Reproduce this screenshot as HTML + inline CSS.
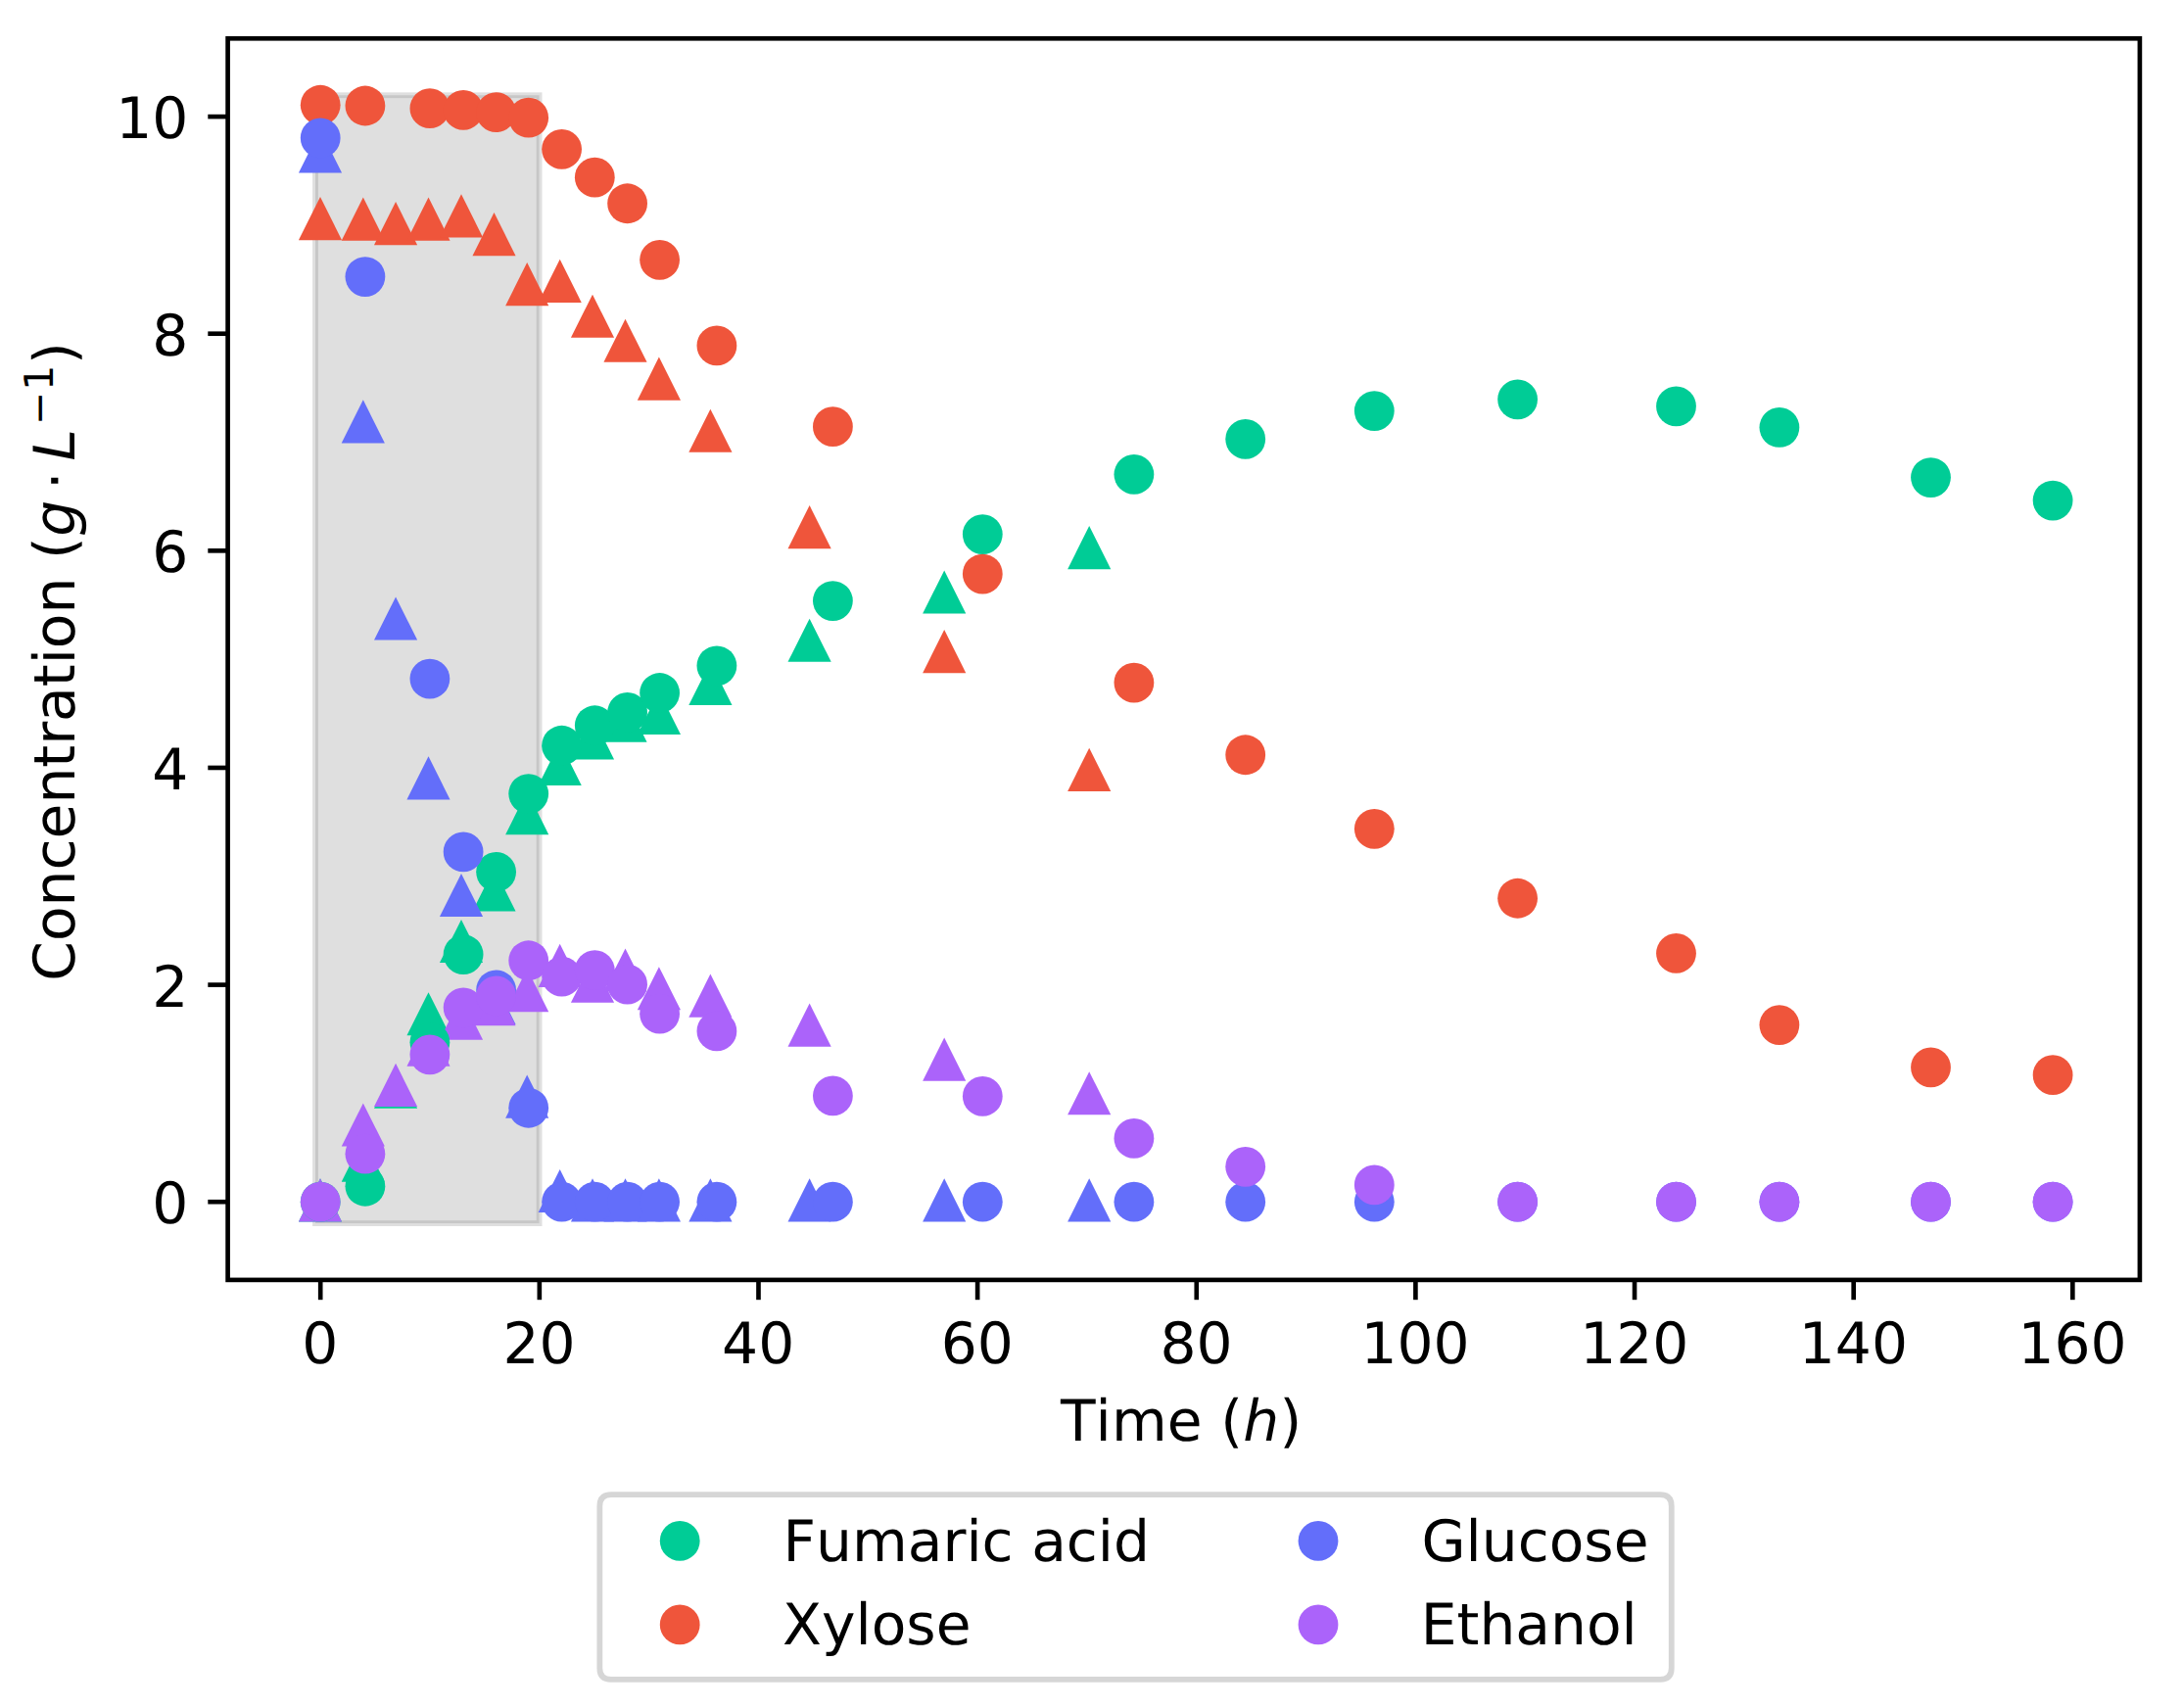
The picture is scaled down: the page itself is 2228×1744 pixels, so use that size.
<!DOCTYPE html>
<html lang="en"><head><meta charset="utf-8"><title>Concentration vs Time</title>
<style>html,body{margin:0;padding:0;background:#fff}svg{display:block}text{font-family:"DejaVu Sans","Liberation Sans",sans-serif;font-size:58.25px;fill:#000;text-rendering:geometricPrecision;font-kerning:none}.it{font-style:oblique}</style></head><body>
<svg width="2228" height="1744" viewBox="0 0 2228 1744">
<rect width="2228" height="1744" fill="#fff"/>
<rect x="322.00" y="97.25" width="228.60" height="1151.85" fill="#808080" fill-opacity="0.25" stroke="#808080" stroke-opacity="0.25" stroke-width="5.80"/>
<g fill="#00CC96">
<polygon points="327.00,1203.32 304.92,1247.48 349.08,1247.48"/>
<polygon points="370.80,1162.54 348.72,1206.70 392.88,1206.70"/>
<polygon points="404.05,1087.53 381.97,1131.68 426.13,1131.68"/>
<polygon points="437.50,1013.17 415.42,1057.33 459.58,1057.33"/>
<polygon points="471.00,938.93 448.92,983.09 493.08,983.09"/>
<polygon points="504.50,886.41 482.42,930.56 526.58,930.56"/>
<polygon points="538.20,808.06 516.12,852.22 560.28,852.22"/>
<polygon points="571.70,757.87 549.62,802.02 593.78,802.02"/>
<polygon points="605.00,731.27 582.92,775.43 627.08,775.43"/>
<polygon points="638.50,713.54 616.42,757.70 660.58,757.70"/>
<polygon points="672.90,705.79 650.82,749.94 694.98,749.94"/>
<polygon points="725.40,675.87 703.32,720.02 747.48,720.02"/>
<polygon points="826.60,631.65 804.52,675.81 848.68,675.81"/>
<polygon points="964.20,582.45 942.12,626.61 986.28,626.61"/>
<polygon points="1112.20,537.02 1090.12,581.18 1134.28,581.18"/>
</g>
<g fill="#EF553B">
<polygon points="327.00,201.05 304.92,245.20 349.08,245.20"/>
<polygon points="370.80,201.60 348.72,245.76 392.88,245.76"/>
<polygon points="404.05,206.03 381.97,250.19 426.13,250.19"/>
<polygon points="437.50,201.60 415.42,245.76 459.58,245.76"/>
<polygon points="471.00,198.28 448.92,242.43 493.08,242.43"/>
<polygon points="504.50,217.11 482.42,261.27 526.58,261.27"/>
<polygon points="538.20,268.09 516.12,312.24 560.28,312.24"/>
<polygon points="571.70,264.76 549.62,308.92 593.78,308.92"/>
<polygon points="605.00,300.66 582.92,344.82 627.08,344.82"/>
<polygon points="638.50,325.71 616.42,369.86 660.58,369.86"/>
<polygon points="672.90,364.49 650.82,408.65 694.98,408.65"/>
<polygon points="725.40,417.68 703.32,461.84 747.48,461.84"/>
<polygon points="826.60,515.97 804.52,560.13 848.68,560.13"/>
<polygon points="964.20,643.07 942.12,687.22 986.28,687.22"/>
<polygon points="1112.20,763.74 1090.12,807.90 1134.28,807.90"/>
</g>
<g fill="#636EFA">
<polygon points="327.00,132.46 304.92,176.61 349.08,176.61"/>
<polygon points="370.80,408.26 348.72,452.42 392.88,452.42"/>
<polygon points="404.05,609.38 381.97,653.54 426.13,653.54"/>
<polygon points="437.50,772.27 415.42,816.43 459.58,816.43"/>
<polygon points="471.00,891.95 448.92,936.10 493.08,936.10"/>
<polygon points="504.50,1001.87 482.42,1046.03 526.58,1046.03"/>
<polygon points="538.20,1097.50 516.12,1141.66 560.28,1141.66"/>
<polygon points="571.70,1193.90 549.62,1238.06 593.78,1238.06"/>
<polygon points="605.00,1203.32 582.92,1247.48 627.08,1247.48"/>
<polygon points="638.50,1203.32 616.42,1247.48 660.58,1247.48"/>
<polygon points="672.90,1203.32 650.82,1247.48 694.98,1247.48"/>
<polygon points="725.40,1203.32 703.32,1247.48 747.48,1247.48"/>
<polygon points="826.60,1203.32 804.52,1247.48 848.68,1247.48"/>
<polygon points="964.20,1203.32 942.12,1247.48 986.28,1247.48"/>
<polygon points="1112.20,1203.32 1090.12,1247.48 1134.28,1247.48"/>
</g>
<g fill="#AB63FA">
<polygon points="327.00,1203.32 304.92,1247.48 349.08,1247.48"/>
<polygon points="370.80,1126.42 348.72,1170.58 392.88,1170.58"/>
<polygon points="404.05,1085.86 381.97,1130.02 426.13,1130.02"/>
<polygon points="437.50,1044.64 415.42,1088.80 459.58,1088.80"/>
<polygon points="471.00,1017.61 448.92,1061.76 493.08,1061.76"/>
<polygon points="504.50,1003.09 482.42,1047.25 526.58,1047.25"/>
<polygon points="538.20,989.13 516.12,1033.28 560.28,1033.28"/>
<polygon points="571.70,963.75 549.62,1007.91 593.78,1007.91"/>
<polygon points="605.00,979.71 582.92,1023.87 627.08,1023.87"/>
<polygon points="638.50,968.41 616.42,1012.56 660.58,1012.56"/>
<polygon points="672.90,987.13 650.82,1031.29 694.98,1031.29"/>
<polygon points="725.40,994.56 703.32,1038.71 747.48,1038.71"/>
<polygon points="826.60,1024.59 804.52,1068.74 848.68,1068.74"/>
<polygon points="964.20,1059.49 942.12,1103.65 986.28,1103.65"/>
<polygon points="1112.20,1094.18 1090.12,1138.33 1134.28,1138.33"/>
</g>
<g fill="#00CC96">
<circle cx="327.20" cy="1227.20" r="20.40"/>
<circle cx="372.90" cy="1211.24" r="20.40"/>
<circle cx="438.90" cy="1064.31" r="20.40"/>
<circle cx="473.10" cy="974.55" r="20.40"/>
<circle cx="506.60" cy="890.34" r="20.40"/>
<circle cx="539.70" cy="810.55" r="20.40"/>
<circle cx="573.60" cy="761.24" r="20.40"/>
<circle cx="607.30" cy="740.74" r="20.40"/>
<circle cx="640.60" cy="727.45" r="20.40"/>
<circle cx="673.60" cy="707.50" r="20.40"/>
<circle cx="731.90" cy="679.80" r="20.40"/>
<circle cx="850.40" cy="613.53" r="20.40"/>
<circle cx="1003.30" cy="545.61" r="20.40"/>
<circle cx="1157.90" cy="484.44" r="20.40"/>
<circle cx="1271.70" cy="448.43" r="20.40"/>
<circle cx="1403.30" cy="419.62" r="20.40"/>
<circle cx="1549.60" cy="407.87" r="20.40"/>
<circle cx="1711.50" cy="414.85" r="20.40"/>
<circle cx="1816.90" cy="436.46" r="20.40"/>
<circle cx="1971.50" cy="487.54" r="20.40"/>
<circle cx="2096.10" cy="511.03" r="20.40"/>
</g>
<g fill="#EF553B">
<circle cx="327.20" cy="107.24" r="20.40"/>
<circle cx="372.90" cy="108.02" r="20.40"/>
<circle cx="438.90" cy="110.68" r="20.40"/>
<circle cx="473.10" cy="112.45" r="20.40"/>
<circle cx="506.60" cy="114.67" r="20.40"/>
<circle cx="539.70" cy="120.21" r="20.40"/>
<circle cx="573.60" cy="152.34" r="20.40"/>
<circle cx="607.30" cy="181.15" r="20.40"/>
<circle cx="640.60" cy="207.75" r="20.40"/>
<circle cx="673.60" cy="265.37" r="20.40"/>
<circle cx="731.90" cy="352.91" r="20.40"/>
<circle cx="850.40" cy="435.68" r="20.40"/>
<circle cx="1003.30" cy="586.05" r="20.40"/>
<circle cx="1157.90" cy="697.08" r="20.40"/>
<circle cx="1271.70" cy="770.77" r="20.40"/>
<circle cx="1403.30" cy="846.35" r="20.40"/>
<circle cx="1549.60" cy="917.26" r="20.40"/>
<circle cx="1711.50" cy="973.45" r="20.40"/>
<circle cx="1816.90" cy="1046.58" r="20.40"/>
<circle cx="1971.50" cy="1089.91" r="20.40"/>
<circle cx="2096.10" cy="1097.66" r="20.40"/>
</g>
<g fill="#636EFA">
<circle cx="327.20" cy="140.82" r="20.40"/>
<circle cx="372.90" cy="282.54" r="20.40"/>
<circle cx="438.90" cy="693.10" r="20.40"/>
<circle cx="473.10" cy="869.84" r="20.40"/>
<circle cx="506.60" cy="1010.79" r="20.40"/>
<circle cx="539.70" cy="1131.24" r="20.40"/>
<circle cx="573.60" cy="1227.20" r="20.40"/>
<circle cx="607.30" cy="1227.20" r="20.40"/>
<circle cx="640.60" cy="1227.20" r="20.40"/>
<circle cx="673.60" cy="1227.20" r="20.40"/>
<circle cx="731.90" cy="1227.20" r="20.40"/>
<circle cx="850.40" cy="1227.20" r="20.40"/>
<circle cx="1003.30" cy="1227.20" r="20.40"/>
<circle cx="1157.90" cy="1227.20" r="20.40"/>
<circle cx="1271.70" cy="1227.20" r="20.40"/>
<circle cx="1403.30" cy="1227.20" r="20.40"/>
<circle cx="1549.60" cy="1227.20" r="20.40"/>
<circle cx="1711.50" cy="1227.20" r="20.40"/>
<circle cx="1816.90" cy="1227.20" r="20.40"/>
<circle cx="1971.50" cy="1227.20" r="20.40"/>
<circle cx="2096.10" cy="1227.20" r="20.40"/>
</g>
<g fill="#AB63FA">
<circle cx="327.20" cy="1227.20" r="20.40"/>
<circle cx="372.90" cy="1178.22" r="20.40"/>
<circle cx="438.90" cy="1076.83" r="20.40"/>
<circle cx="473.10" cy="1028.85" r="20.40"/>
<circle cx="506.60" cy="1016.88" r="20.40"/>
<circle cx="539.70" cy="980.76" r="20.40"/>
<circle cx="573.60" cy="997.16" r="20.40"/>
<circle cx="607.30" cy="990.62" r="20.40"/>
<circle cx="640.60" cy="1005.14" r="20.40"/>
<circle cx="673.60" cy="1035.17" r="20.40"/>
<circle cx="731.90" cy="1052.90" r="20.40"/>
<circle cx="850.40" cy="1118.94" r="20.40"/>
<circle cx="1003.30" cy="1119.38" r="20.40"/>
<circle cx="1157.90" cy="1162.38" r="20.40"/>
<circle cx="1271.70" cy="1191.30" r="20.40"/>
<circle cx="1403.30" cy="1209.91" r="20.40"/>
<circle cx="1549.60" cy="1227.20" r="20.40"/>
<circle cx="1711.50" cy="1227.20" r="20.40"/>
<circle cx="1816.90" cy="1227.20" r="20.40"/>
<circle cx="1971.50" cy="1227.20" r="20.40"/>
<circle cx="2096.10" cy="1227.20" r="20.40"/>
</g>
<rect x="232.60" y="39.30" width="1952.30" height="1267.60" fill="none" stroke="#000" stroke-width="4.64"/>
<g stroke="#000" stroke-width="4.64">
<line x1="327.20" y1="1306.90" x2="327.20" y2="1327.20"/>
<line x1="550.84" y1="1306.90" x2="550.84" y2="1327.20"/>
<line x1="774.48" y1="1306.90" x2="774.48" y2="1327.20"/>
<line x1="998.12" y1="1306.90" x2="998.12" y2="1327.20"/>
<line x1="1221.76" y1="1306.90" x2="1221.76" y2="1327.20"/>
<line x1="1445.40" y1="1306.90" x2="1445.40" y2="1327.20"/>
<line x1="1669.04" y1="1306.90" x2="1669.04" y2="1327.20"/>
<line x1="1892.68" y1="1306.90" x2="1892.68" y2="1327.20"/>
<line x1="2116.32" y1="1306.90" x2="2116.32" y2="1327.20"/>
<line x1="212.30" y1="1227.20" x2="232.60" y2="1227.20"/>
<line x1="212.30" y1="1005.58" x2="232.60" y2="1005.58"/>
<line x1="212.30" y1="783.96" x2="232.60" y2="783.96"/>
<line x1="212.30" y1="562.34" x2="232.60" y2="562.34"/>
<line x1="212.30" y1="340.72" x2="232.60" y2="340.72"/>
<line x1="212.30" y1="119.10" x2="232.60" y2="119.10"/>
</g>
<g text-anchor="middle">
<text x="326.90" y="1392.00">0</text>
<text x="550.54" y="1392.00">20</text>
<text x="774.18" y="1392.00">40</text>
<text x="997.82" y="1392.00">60</text>
<text x="1221.46" y="1392.00">80</text>
<text x="1445.10" y="1392.00">100</text>
<text x="1668.74" y="1392.00">120</text>
<text x="1892.38" y="1392.00">140</text>
<text x="2116.02" y="1392.00">160</text>
</g>
<g text-anchor="end">
<text x="192.40" y="1249.30">0</text>
<text x="192.40" y="1027.68">2</text>
<text x="192.40" y="806.06">4</text>
<text x="192.40" y="584.44">6</text>
<text x="192.40" y="362.82">8</text>
<text x="192.40" y="141.20">10</text>
</g>
<text x="1082.9" y="1471.2" style="letter-spacing:0.12px">Time (</text>
<text class="it" x="1269.3" y="1471.2">h</text>
<text x="1306.4" y="1471.2">)</text>
<g transform="translate(75.9,1001.7) rotate(-90)">
<text x="0" y="0" style="font-kerning:none">Concentration (</text>
<text class="it" x="454.0" y="0">g</text>
<text x="501.7" y="0">·</text>
<text class="it" x="531.3" y="0">L</text>
<text x="567.6" y="-21.8" style="font-size:40.775px">−</text>
<text x="603.0" y="-21.8" style="font-size:40.775px">1</text>
<text x="629.7" y="0">)</text>
</g>
<path d="M623.95,1526.20 L1695.15,1526.20 Q1706.75,1526.20 1706.75,1537.80 L1706.75,1703.20 Q1706.75,1714.80 1695.15,1714.80 L623.95,1714.80 Q612.35,1714.80 612.35,1703.20 L612.35,1537.80 Q612.35,1526.20 623.95,1526.20 Z" fill="#fff" fill-opacity="0.8" stroke="#ccc" stroke-opacity="0.8" stroke-width="5.80"/>
<circle cx="694.20" cy="1573.40" r="20.40" fill="#00CC96"/>
<circle cx="694.20" cy="1658.90" r="20.40" fill="#EF553B"/>
<circle cx="1346.00" cy="1573.40" r="20.40" fill="#636EFA"/>
<circle cx="1346.00" cy="1658.90" r="20.40" fill="#AB63FA"/>
<text x="799.6" y="1594.0">Fumaric acid</text>
<text x="799.1" y="1678.8">Xylose</text>
<text x="1451.4" y="1594.0">Glucose</text>
<text x="1450.8" y="1678.8">Ethanol</text>
</svg></body></html>
